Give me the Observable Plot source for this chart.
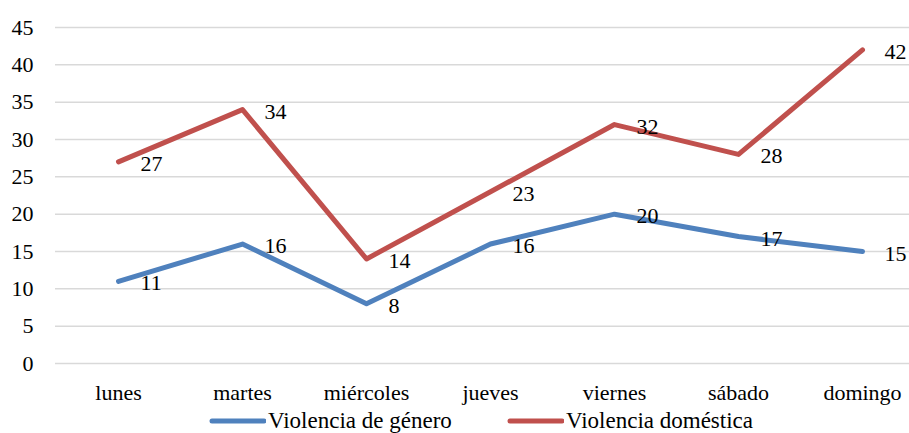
<!DOCTYPE html>
<html>
<head>
<meta charset="utf-8">
<script src="https://cdn.jsdelivr.net/npm/d3@7"></script>
<script src="https://cdn.jsdelivr.net/npm/@observablehq/plot@0.6"></script>
<style>
  html, body { margin: 0; padding: 0; background: #fff; }
  #wrap { position: relative; width: 909px; height: 433px; font-family: 'Liberation Serif'; }
  #legend { position: absolute; left: 0; top: 409px; width: 909px; height: 24px; font-size: 23px; color: #000; font-family: 'Liberation Serif'; }
  .item { position: absolute; top: 0; height: 24px; display: flex; align-items: center; white-space: nowrap; font-family: 'Liberation Serif'; }
  .item svg { margin-right: 2px; }
</style>
</head>
<body>
<div id="wrap"><div id="chart"></div><div id="legend"></div></div>
<script>
const days = ["lunes", "martes", "miércoles", "jueves", "viernes", "sábado", "domingo"];
const seriesNames = ["Violencia de género", "Violencia doméstica"];
const genero = [11, 16, 8, 16, 20, 17, 15];
const domestica = [27, 34, 14, 23, 32, 28, 42];
const yTicks = [0, 5, 10, 15, 20, 25, 30, 35, 40, 45];
const colors = ["#4F81BD", "#C0504D"];

const data = [];
days.forEach((d, i) => data.push({day: d, series: seriesNames[0], value: genero[i]}));
days.forEach((d, i) => data.push({day: d, series: seriesNames[1], value: domestica[i]}));

const serif = "'Liberation Serif'";

const chart = Plot.plot({
  width: 909,
  height: 409,
  marginLeft: 55,
  marginRight: 0,
  marginTop: 27,
  marginBottom: 46,
  style: {fontFamily: serif, fontSize: "22px", color: "#000", background: "#fff"},
  x: {type: "point", domain: days, range: [117, 862], padding: 0, label: null},
  y: {domain: [0, 45], label: null},
  color: {domain: seriesNames, range: colors},
  marks: [
    Plot.gridY(yTicks, {stroke: "#d9d9d9", strokeOpacity: 1, strokeWidth: 1.5}),
    Plot.axisY(yTicks, {tickSize: 0, tickPadding: 22, label: null, fill: "#000", fontSize: 22}),
    Plot.axisX({tickSize: 0, tickPadding: 21, label: null, fill: "#000", fontSize: 22}),
    Plot.line(data, {x: "day", y: "value", z: "series", stroke: "series", strokeWidth: 5, strokeLinecap: "round", strokeLinejoin: "round"}),
    Plot.text(data, {x: "day", y: "value", text: d => String(d.value), dx: 22, dy: 2, textAnchor: "start", fill: "#000", fontSize: 22})
  ]
});
document.getElementById("chart").appendChild(chart);

const legend = document.getElementById("legend");
const lefts = [208, 506];
seriesNames.forEach((name, i) => {
  const item = document.createElement("div");
  item.className = "item";
  item.style.left = lefts[i] + "px";
  item.innerHTML = `<svg width="58" height="10"><line x1="4" y1="5" x2="56" y2="5" stroke="${colors[i]}" stroke-width="5" stroke-linecap="round"/></svg><span>${name}</span>`;
  legend.appendChild(item);
});
</script>
</body>
</html>
